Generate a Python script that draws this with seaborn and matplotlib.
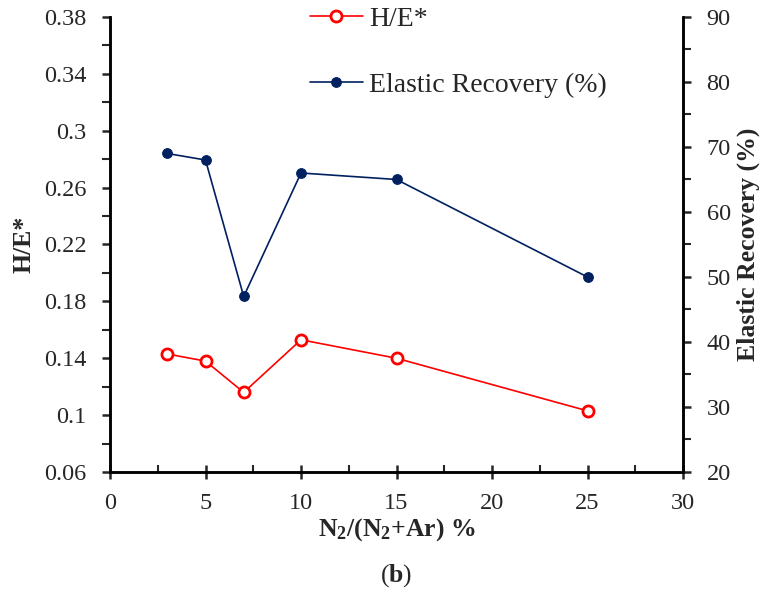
import matplotlib
matplotlib.use("Agg")
import matplotlib.pyplot as plt
from matplotlib.ticker import MultipleLocator, FixedLocator
import seaborn as sns
import pandas as pd

n2_ratio = [3, 5, 7, 10, 15, 25]
h_e = [0.143, 0.138, 0.116, 0.153, 0.140, 0.103]
elastic_recovery = [69, 68, 47, 66, 65, 50]
he_ticks = [0.06, 0.10, 0.14, 0.18, 0.22, 0.26, 0.30, 0.34, 0.38]
he_tick_labels = ["0.06", "0.1", "0.14", "0.18", "0.22", "0.26", "0.3", "0.34", "0.38"]

sns.set_style("white")
plt.rcParams['font.family'] = ['Liberation Serif', 'DejaVu Serif']
plt.rcParams['mathtext.fontset'] = 'custom'
plt.rcParams['mathtext.rm'] = 'Liberation Serif'
plt.rcParams['mathtext.bf'] = 'Liberation Serif:bold'

df = pd.DataFrame({"x": n2_ratio, "he": h_e, "er": elastic_recovery})

fig = plt.figure(figsize=(7.67, 5.90), dpi=100)
ax = fig.add_axes([110/767, 118/590, (683-110)/767, (472-17)/590])
ax2 = ax.twinx()

sns.lineplot(data=df, x="x", y="he", ax=ax, color="#FF0000", marker="o",
             markersize=8, markerfacecolor="white", markeredgecolor="#FF0000",
             markeredgewidth=2, linewidth=1.2, label="H/E*", legend=False)
sns.lineplot(data=df, x="x", y="er", ax=ax2, color="#002060", marker="o",
             markersize=7, markerfacecolor="#002060", markeredgecolor="#002060",
             linewidth=1.2, label="Elastic Recovery (%)", legend=False)

ax.set_xlim(0, 30)
ax.set_ylim(0.06, 0.38)
ax2.set_ylim(20, 90)
ax.xaxis.set_major_locator(MultipleLocator(5))
ax.xaxis.set_minor_locator(MultipleLocator(2.5))
ax.yaxis.set_major_locator(FixedLocator(he_ticks))
ax.yaxis.set_minor_locator(FixedLocator([t + 0.02 for t in he_ticks[:-1]]))
ax2.yaxis.set_major_locator(MultipleLocator(10))
ax2.yaxis.set_minor_locator(MultipleLocator(5))
ax.set_yticklabels(he_tick_labels)

for a in (ax, ax2):
    for s in a.spines.values():
        s.set_linewidth(1.8)
        s.set_color("black")
    a.spines['top'].set_visible(False)

ax.tick_params(axis='x', which='major', direction='inout', length=10, width=1.8, labelsize=17.5, pad=10, bottom=True)
ax.tick_params(axis='x', which='minor', direction='in', length=5, width=1.5, bottom=True)
ax.tick_params(axis='y', which='major', direction='out', length=6, width=1.8, labelsize=17.5, pad=11, left=True)
ax.tick_params(axis='y', which='minor', direction='out', length=6, width=1.5, left=True)
ax2.tick_params(axis='y', which='major', direction='out', length=6, width=1.8, labelsize=17.5, pad=11, right=True)
ax2.tick_params(axis='y', which='minor', direction='out', length=6, width=1.5, right=True)

ax.set_xlabel(r"$\mathbf{N_2/(N_2{+}Ar)}$ %", fontsize=18.5, fontweight='bold', labelpad=2)
ax.set_ylabel("H/E*", fontsize=18.5, fontweight='bold', labelpad=6)
ax2.set_ylabel("Elastic Recovery (%)", fontsize=18.5, fontweight='bold', labelpad=4)

fig.text(0.5 * (110 + 683) / 767, 14/590, r"($\mathbf{b}$)", fontsize=18.5, ha='center', va='center')

h1, l1 = ax.get_legend_handles_labels()
h2, l2 = ax2.get_legend_handles_labels()
leg = ax.legend(h1 + h2, l1 + l2, loc='upper left', bbox_to_anchor=(0.305, 1.078),
                frameon=False, fontsize=20, labelspacing=1.45, handlelength=1.9,
                handletextpad=0.25)
ax2.set_zorder(ax.get_zorder() + 1)
ax.patch.set_visible(False)

fig.savefig("out.png", dpi=100)
